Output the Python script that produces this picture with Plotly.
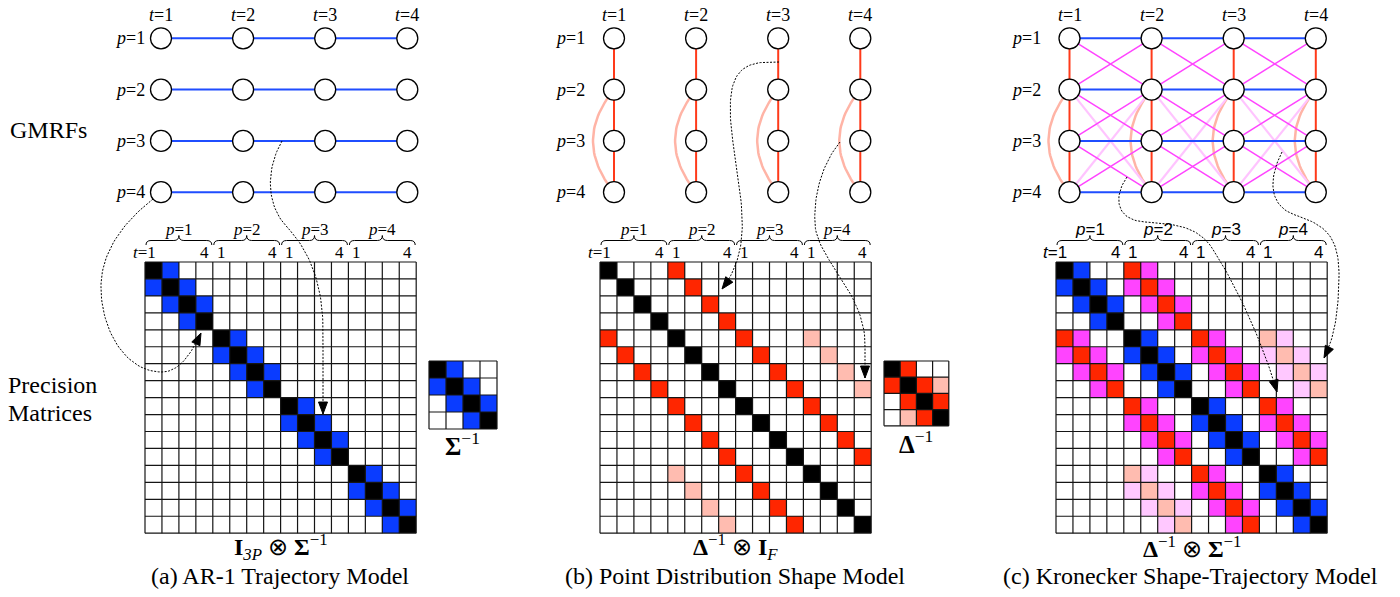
import numpy as np
import plotly.graph_objects as go

# ---------------- data ----------------
P_LABELS = ["1", "2", "3", "4"]          # shape points p
T_LABELS = ["1", "2", "3", "4"]          # time steps t
# codes: 0 white, 1 diagonal (black), 2 temporal neighbour (blue),
#        3 shape neighbour (red), 4 weak shape link (light red),
#        5 shape x temporal (magenta), 6 weak shape x temporal (light pink)
SIGMA_INV = [[1, 2, 0, 0],
             [2, 1, 2, 0],
             [0, 2, 1, 2],
             [0, 0, 2, 1]]
DELTA_INV = [[1, 3, 0, 0],
             [3, 1, 3, 4],
             [0, 3, 1, 3],
             [0, 4, 3, 1]]
CODE_COLORS = ["#ffffff", "#000000", "#0a3cff", "#ff2600", "#ffbcb0", "#ff44ff", "#ffc8ff"]
PANEL_CAPTIONS = ["(a) AR-1 Trajectory Model", "(b) Point Distribution Shape Model",
                  "(c) Kronecker Shape-Trajectory Model"]
MATRIX_LABELS = ["<b>I</b><sub><i>3P</i></sub> ⊗ <b>Σ</b><sup>−1</sup>",
                 "<b>Δ</b><sup>−1</sup> ⊗ <b>I</b><sub><i>F</i></sub>",
                 "<b>Δ</b><sup>−1</sup> ⊗ <b>Σ</b><sup>−1</sup>"]

# ---------------- build matrices ----------------
n = len(P_LABELS)
S = np.array(SIGMA_INV)
D = np.array(DELTA_INV)
mat_a = np.zeros((n * n, n * n), int)
mat_b = np.zeros((n * n, n * n), int)
mat_c = np.zeros((n * n, n * n), int)
for i in range(n):
    for j in range(n):
        for a in range(n):
            for b in range(n):
                r, c = i * n + a, j * n + b
                if i == j:
                    mat_a[r, c] = S[a, b]
                if a == b:
                    mat_b[r, c] = D[i, j]
                d, s = D[i, j], S[a, b]
                if d and s:
                    if d == 1:
                        mat_c[r, c] = s
                    elif d == 3:
                        mat_c[r, c] = 3 if s == 1 else 5
                    else:
                        mat_c[r, c] = 4 if s == 1 else 6

small_b = D
colorscale = []
K = len(CODE_COLORS)
for k, col in enumerate(CODE_COLORS):
    colorscale += [[k / K, col], [(k + 1) / K, col]]

# ---------------- layout constants ----------------
W, H = 1400, 597
SERIF = "Liberation Serif"
SANS = "Liberation Sans"
fig = go.Figure()
shapes, annotations = [], []


def add_matrix(M, x0, y0, cell, lw=1.2):
    m = M.shape[0]
    fig.add_trace(go.Heatmap(z=M, x0=x0 + cell / 2, dx=cell, y0=y0 + cell / 2, dy=cell,
                             colorscale=colorscale, zmin=-0.5, zmax=K - 0.5,
                             showscale=False, hoverinfo="skip"))
    xs, ys = [], []
    for k in range(m + 1):
        xs += [x0 + k * cell, x0 + k * cell, None]
        ys += [y0, y0 + m * cell, None]
        xs += [x0, x0 + m * cell, None]
        ys += [y0 + k * cell, y0 + k * cell, None]
    fig.add_trace(go.Scatter(x=xs, y=ys, mode="lines", line=dict(color="#151515", width=lw),
                             hoverinfo="skip", showlegend=False))


MAT_X = [145, 600, 1056]
MAT_Y = 262
CELL = 16.95
for M, mx in zip([mat_a, mat_b, mat_c], MAT_X):
    add_matrix(M, mx, MAT_Y, CELL)
add_matrix(S, 429, 361, 17)
add_matrix(small_b, 884, 361, 16.2)

# ---------------- GMRF graphs ----------------
NODE_X0 = [161, 614, 1069.5]
NODE_DX = 82.1
NODE_Y0 = 38.3
NODE_DY = 51.3
BLUE_E = "#1f4dff"
RED_E = "#ff3a1a"
ARC_E = "#ffb4a6"
MAG_E = "#ff44ff"
PINK_E = "#ffc4ff"


def node(panel, p, t):
    return NODE_X0[panel] + t * NODE_DX, NODE_Y0 + p * NODE_DY


def seg_trace(segs, color, width):
    xs, ys = [], []
    for (x1, y1), (x2, y2) in segs:
        xs += [x1, x2, None]
        ys += [y1, y2, None]
    fig.add_trace(go.Scatter(x=xs, y=ys, mode="lines", line=dict(color=color, width=width),
                             hoverinfo="skip", showlegend=False))


def arc_pts(panel, t):
    x, y2 = node(panel, 1, t)
    _, y3 = node(panel, 2, t)
    _, y4 = node(panel, 3, t)
    u = np.linspace(0, 1, 40)
    cx, cy = x - 42, y3
    xs = (1 - u) ** 2 * x + 2 * u * (1 - u) * cx + u ** 2 * x
    ys = (1 - u) ** 2 * y2 + 2 * u * (1 - u) * cy + u ** 2 * y4
    return list(xs) + [None], list(ys) + [None]


for panel in range(3):
    blue, red, mag, pink = [], [], [], []
    arcx, arcy = [], []
    for p in range(n):
        for t in range(n):
            if panel in (0, 2) and t < n - 1:
                blue.append((node(panel, p, t), node(panel, p, t + 1)))
            if panel in (1, 2) and p < n - 1:
                red.append((node(panel, p, t), node(panel, p + 1, t)))
            if panel == 2 and p < n - 1 and t < n - 1:
                mag.append((node(panel, p, t), node(panel, p + 1, t + 1)))
                mag.append((node(panel, p + 1, t), node(panel, p, t + 1)))
            if panel == 2 and p == 1 and t < n - 1:
                pink.append((node(panel, 1, t), node(panel, 3, t + 1)))
                pink.append((node(panel, 3, t), node(panel, 1, t + 1)))
        if panel in (1, 2):
            ax_, ay_ = arc_pts(panel, p)
            arcx += ax_
            arcy += ay_
    if arcx:
        fig.add_trace(go.Scatter(x=arcx, y=arcy, mode="lines", line=dict(color=ARC_E, width=2.5),
                                 hoverinfo="skip", showlegend=False))
    if pink:
        seg_trace(pink, PINK_E, 2.2)
    if mag:
        seg_trace(mag, MAG_E, 1.5)
    if red:
        seg_trace(red, RED_E, 2)
    if blue:
        seg_trace(blue, BLUE_E, 2)
    nx = [node(panel, p, t)[0] for p in range(n) for t in range(n)]
    ny = [node(panel, p, t)[1] for p in range(n) for t in range(n)]
    fig.add_trace(go.Scatter(x=nx, y=ny, mode="markers",
                             marker=dict(size=21, color="white", line=dict(color="black", width=1.3)),
                             hoverinfo="skip", showlegend=False))
    # labels
    gap = 14 if panel == 0 else 27
    for p, pl in enumerate(P_LABELS):
        x, y = node(panel, p, 0)
        annotations.append(dict(x=x - gap, y=y, text=f"<i>p</i>={pl}", xanchor="right",
                                yanchor="middle", showarrow=False,
                                font=dict(family=SERIF, size=18, color="black")))
    for t, tl in enumerate(T_LABELS):
        x, _ = node(panel, 0, t)
        annotations.append(dict(x=x, y=15, text=f"<i>t</i>={tl}", xanchor="center",
                                yanchor="middle", showarrow=False,
                                font=dict(family=SERIF, size=18, color="black")))

# ---------------- braces over the matrices ----------------
Y_END, Y_MID, Y_TIP = 245, 240.5, 235.5
for panel, mx in enumerate(MAT_X):
    fam = SANS if panel == 2 else SERIF
    fs = 17
    for b in range(n):
        xa = mx + b * n * CELL + 1
        xb = mx + (b + 1) * n * CELL - 1
        xm = (xa + xb) / 2
        path = (f"M {xa},{Y_END} Q {xa},{Y_MID} {xa+5},{Y_MID} L {xm-5},{Y_MID} "
                f"Q {xm},{Y_MID} {xm},{Y_TIP} Q {xm},{Y_MID} {xm+5},{Y_MID} "
                f"L {xb-5},{Y_MID} Q {xb},{Y_MID} {xb},{Y_END}")
        shapes.append(dict(type="path", path=path, xref="x", yref="y",
                           line=dict(color="black", width=1)))
        annotations.append(dict(x=xm, y=229, text=f"<i>p</i>={P_LABELS[b]}", showarrow=False,
                                xanchor="center", yanchor="middle",
                                font=dict(family=fam, size=fs, color="black")))
        first = mx + (b * n + 0.5) * CELL
        last = mx + (b * n + n - 0.5) * CELL
        if b == 0:
            annotations.append(dict(x=first + 5, y=252, text=f"<i>t</i>={T_LABELS[0]}",
                                    showarrow=False, xanchor="right", yanchor="middle",
                                    font=dict(family=fam, size=fs, color="black")))
        else:
            annotations.append(dict(x=first, y=252, text=T_LABELS[0], showarrow=False,
                                    xanchor="center", yanchor="middle",
                                    font=dict(family=fam, size=fs, color="black")))
        annotations.append(dict(x=last, y=252, text=T_LABELS[-1], showarrow=False,
                                xanchor="center", yanchor="middle",
                                font=dict(family=fam, size=fs, color="black")))

# ---------------- dotted arrows ----------------
def bez(p0, c1, c2, p1, k=30):
    u = np.linspace(0, 1, k)[:, None]
    p0, c1, c2, p1 = map(np.array, (p0, c1, c2, p1))
    return ((1 - u) ** 3 * p0 + 3 * u * (1 - u) ** 2 * c1 + 3 * u ** 2 * (1 - u) * c2 + u ** 3 * p1)


ARROWS = [
    [((153, 199), (120, 225), (100, 255), (101, 290)),
     ((101, 290), (102, 330), (125, 372), (162, 372)),
     ((162, 372), (180, 372), (192, 352), (201, 333))],
    [((282, 141), (268, 165), (264, 200), (285, 225)),
     ((285, 225), (310, 250), (323, 285), (323, 330)),
     ((323, 330), (323, 360), (323, 390), (323, 414))],
    [((779, 62), (760, 62), (735, 60), (731, 95)),
     ((731, 95), (727, 130), (740, 170), (742, 215)),
     ((742, 215), (744, 250), (735, 272), (722, 289))],
    [((840, 142), (825, 160), (813, 190), (815, 225)),
     ((815, 225), (818, 260), (862, 290), (865, 340)),
     ((865, 340), (865, 355), (865, 365), (865, 378))],
    [((1127, 177), (1114, 195), (1114, 220), (1145, 222)),
     ((1145, 222), (1175, 224), (1195, 226), (1210, 245)),
     ((1210, 245), (1240, 290), (1265, 350), (1277, 392))],
    [((1282, 152), (1270, 175), (1266, 205), (1295, 215)),
     ((1295, 215), (1325, 225), (1340, 235), (1339, 280)),
     ((1339, 280), (1338, 320), (1333, 340), (1324, 358))],
]
hx, hy = [], []
for segs in ARROWS:
    pts = np.vstack([bez(*s) for s in segs])
    fig.add_trace(go.Scatter(x=pts[:, 0], y=pts[:, 1], mode="lines",
                             line=dict(color="black", width=1, dash="2px,1.5px"),
                             hoverinfo="skip", showlegend=False))
    tip = np.array(segs[-1][3], float)
    prev = np.array(segs[-1][2], float)
    d = tip - prev
    d = d / np.linalg.norm(d)
    nrm = np.array([-d[1], d[0]])
    base = tip - d * 12
    tri = [tip, base + nrm * 4.5, base - nrm * 4.5, tip]
    hx += [q[0] for q in tri] + [None]
    hy += [q[1] for q in tri] + [None]
fig.add_trace(go.Scatter(x=hx, y=hy, mode="lines", fill="toself", fillcolor="black",
                         line=dict(color="black", width=1), hoverinfo="skip", showlegend=False))

# ---------------- texts ----------------
annotations.append(dict(x=8, y=130, text="GMRFs", xanchor="left", yanchor="middle", showarrow=False,
                        font=dict(family=SERIF, size=24, color="black")))
annotations.append(dict(x=52, y=385, text="Precision", xanchor="center", yanchor="middle",
                        showarrow=False, font=dict(family=SERIF, size=24, color="black")))
annotations.append(dict(x=50, y=413, text="Matrices", xanchor="center", yanchor="middle",
                        showarrow=False, font=dict(family=SERIF, size=24, color="black")))
annotations.append(dict(x=462, y=444, text="<b>Σ</b><sup>−1</sup>", xanchor="center",
                        yanchor="middle", showarrow=False,
                        font=dict(family=SERIF, size=25, color="black")))
annotations.append(dict(x=916, y=442, text="<b>Δ</b><sup>−1</sup>", xanchor="center",
                        yanchor="middle", showarrow=False,
                        font=dict(family=SERIF, size=25, color="black")))
for mx, cap, lab in zip(MAT_X, PANEL_CAPTIONS, MATRIX_LABELS):
    cx = mx + 8 * CELL
    annotations.append(dict(x=cx, y=547, text=lab, xanchor="center", yanchor="middle",
                            showarrow=False, font=dict(family=SERIF, size=24, color="black")))
    annotations.append(dict(x=cx - 1, y=576, text=cap, xanchor="center", yanchor="middle",
                            showarrow=False, font=dict(family=SERIF, size=24, color="black")))

fig.update_layout(
    width=W, height=H, margin=dict(l=0, r=0, t=0, b=0),
    paper_bgcolor="white", plot_bgcolor="white", showlegend=False,
    xaxis=dict(range=[0, W], visible=False, fixedrange=True),
    yaxis=dict(range=[H, 0], visible=False, fixedrange=True),
    shapes=shapes, annotations=annotations,
)
fig.write_html("out.html", config={"displayModeBar": False},
               post_script="document.body.style.margin='0px';document.body.style.overflow='hidden';")
